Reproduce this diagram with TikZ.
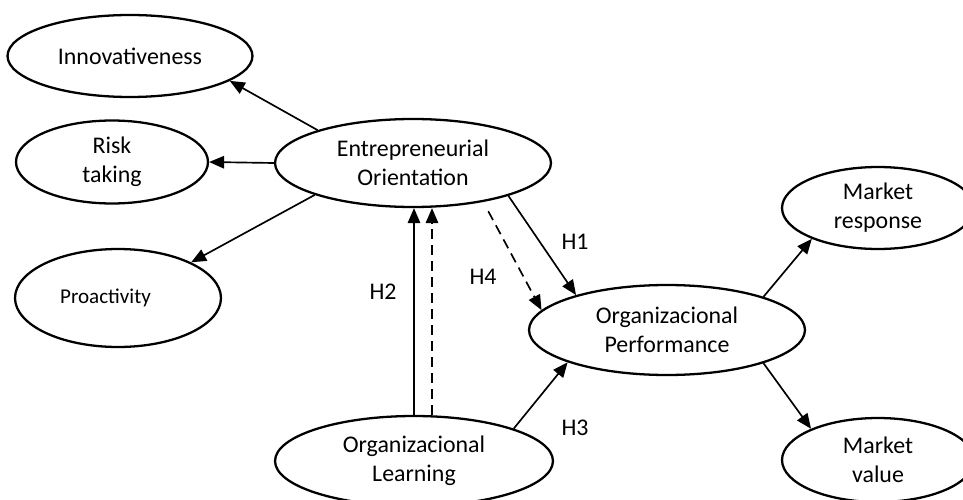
\documentclass[tikz,border=0pt]{standalone}
\usepackage{fontspec}
\setmainfont{Carlito}
\usetikzlibrary{arrows.meta,shapes.geometric,calc}

\begin{document}
\begin{tikzpicture}[x=0.02cm,y=-0.02cm,
    construct/.style={draw,ellipse,line width=1.3pt,inner sep=0pt,align=center,
      font=\fontsize{13.6}{16.5}\selectfont},
    link/.style={line width=0.95pt,-{Triangle[length=0.3cm,width=0.25cm]}},
    hyp/.style={font=\fontsize{13.6}{16.5}\selectfont}]
        \useasboundingbox (0,0) rectangle (963,500);
        \clip (0,0) rectangle (963,500);
        % dimensions
        \node[construct,minimum width=4.9cm,minimum height=1.64cm] (innov) at (130,56) {Innovativeness};
        \node[construct,minimum width=3.84cm,minimum height=1.66cm] (risk) at (112,162) {Risk\\taking};
        \node[construct,minimum width=4.12cm,minimum height=1.96cm,font=\fontsize{12}{14}\selectfont] (proact) at (118,298) {Proactivity\hspace{0.5cm}};
        \node[construct,minimum width=3.84cm,minimum height=1.64cm] (mresp) at (878,208) {Market\\response};
        \node[construct,minimum width=3.84cm,minimum height=1.68cm] (mval) at (878,460) {Market\\value};
        % main constructs
        \node[construct,minimum width=5.52cm,minimum height=1.76cm] (eo) at (413,163) {Entrepreneurial\\Orientation};
        \node[construct,minimum width=5.52cm,minimum height=1.8cm] (op) at (667,330) {Organizacional\\Performance};
        \node[construct,minimum width=5.56cm,minimum height=1.8cm] (ol) at (414,461) {Organizacional\\Learning};
        % arrows
        \draw[link] (eo.161) -- (innov.346);
        \draw[link] (eo.180) -- (risk.0);
        \draw[link] (eo.198) -- (proact.26);
        \draw[link] (eo.341) -- (op.159);
        \draw[link,dash pattern=on 0.2cm off 0.12cm,shorten <=6pt] (eo.331) -- (op.171);
        \draw[link] (ol.north) -- (ol.north |- eo.south);
        \draw[link,dash pattern=on 0.2cm off 0.12cm] ($(ol.north)+(18,0)$) -- ($(ol.north |- eo.south)+(18,0)$);
        \draw[link] (ol.18) -- (op.198);
        \draw[link] (op.19) -- (mresp.205);
        \draw[link] (op.341) -- (mval.155);
        % hypotheses
        \node[hyp] (h1) at (575,242) {H1};
        \node[hyp] (h2) at (383,292) {H2};
        \node[hyp] (h3) at (575,428) {H3};
        \node[hyp] (h4) at (483,277) {H4};
    \end{tikzpicture}
\end{document}
